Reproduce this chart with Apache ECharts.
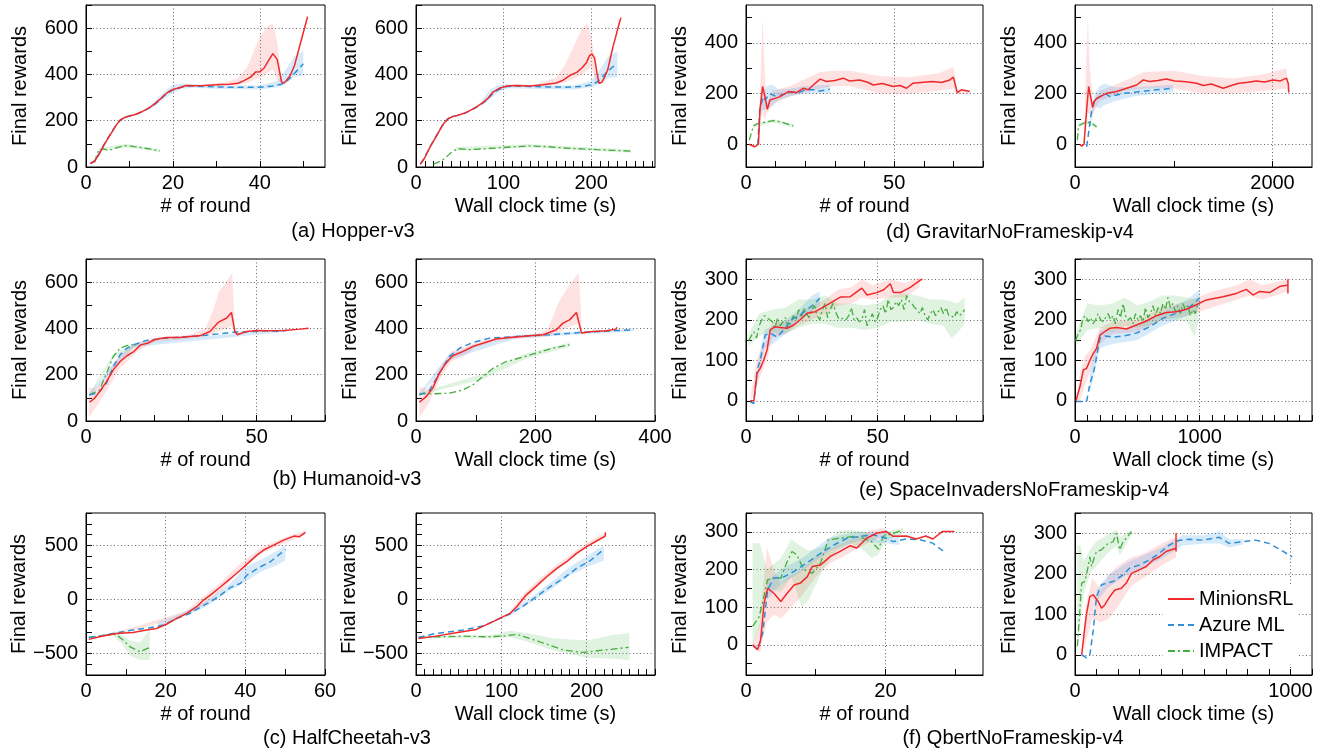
<!DOCTYPE html>
<html><head><meta charset="utf-8">
<script src="https://cdn.jsdelivr.net/npm/echarts@6/dist/echarts.min.js"></script>
<style>html,body{margin:0;padding:0;background:#fff}#c{width:1325px;height:754px}</style>
</head><body><div id="c"></div>
<script>
// ---------- DATA ----------
const methods = ['MinionsRL', 'Azure ML', 'IMPACT'];
const captions = ['(a) Hopper-v3', '(b) Humanoid-v3', '(c) HalfCheetah-v3',
  '(d) GravitarNoFrameskip-v4', '(e) SpaceInvadersNoFrameskip-v4', '(f) QbertNoFrameskip-v4'];
const xNameRound = '# of round';
const xNameWall = 'Wall clock time (s)';
const yName = 'Final rewards';

// (a) Hopper, rounds
const hopRoundRed = [[1,15],[2,25],[3,55],[4,90],[5,122],[6,152],[7,182],[8,205],[9,215],[10,221],[11,225],[12,232],[13,240],[14,250],[15,262],[16,276],[17,292],[18,310],[19,325],[20,335],[21,340],[22,346],[23,352],[25,351],[27,352],[29,354],[31,356],[33,358],[35,362],[36,370],[37,380],[38,390],[39,410],[40,412],[41,428],[42,460],[43,490],[44,465],[45,368],[45.5,362],[46,372],[47,395],[48,440],[49,510],[50,580],[51,650]];
const hopRoundRedBand = [[28,350,358],[32,352,365],[35,355,385],[37,362,430],[38,370,470],[39,380,520],[40,385,560],[41,395,590],[42,410,610],[43,420,620],[44,380,540],[45,355,380]];
const hopRoundBlue = [[1,15],[2,28],[3,58],[4,92],[5,124],[6,154],[7,183],[8,205],[9,214],[10,220],[11,224],[12,231],[13,239],[14,249],[15,260],[16,274],[17,290],[18,308],[19,322],[20,333],[21,338],[22,345],[23,350],[25,350],[27,348],[30,346],[33,345],[36,345],[39,344],[41,346],[43,350],[45,358],[46,368],[47,385],[48,405],[49,425],[50,446]];
const hopRoundBlueBand = [[15,250,270],[18,295,325],[20,320,355],[22,338,360],[25,342,358],[30,338,352],[40,335,352],[44,345,372],[46,360,420],[48,390,480],[50,395,500]];
const hopRoundGreen = [[2,20],[2.5,55],[3,75],[4,78],[5,72],[6,76],[7,83],[8,88],[9,92],[10,91],[11,88],[12,86],[13,83],[14,80],[15,77],[16,73],[17,70]];
const hopRoundGreenBand = [[3,68,82],[9,84,100],[13,76,90],[17,64,76]];

// (a) Hopper, wall clock
const hopWallRed = [[5,12],[10,40],[16,86],[22,125],[27,158],[32,190],[37,209],[42,218],[47,223],[55,232],[62,245],[70,262],[77,280],[83,300],[88,324],[95,340],[104,350],[115,352],[130,350],[145,355],[160,363],[168,375],[176,396],[184,410],[190,430],[195,453],[198,480],[201,489],[204,470],[207,400],[209,362],[212,365],[215,385],[219,420],[222,470],[225,520],[228,561],[231,605],[234,645]];
const hopWallRedBand = [[140,348,362],[160,355,385],[170,365,440],[180,380,520],[190,400,600],[196,420,620],[200,430,570],[205,380,440],[208,355,375]];
const hopWallBlue = [[5,12],[10,42],[16,88],[22,127],[27,160],[32,192],[37,210],[42,218],[47,222],[55,231],[62,244],[70,260],[77,278],[83,298],[88,320],[95,336],[104,348],[115,350],[130,348],[150,346],[170,345],[190,348],[200,355],[206,365],[212,385],[218,410],[224,430],[230,446]];
const hopWallBlueBand = [[75,265,290],[85,295,335],[95,325,355],[105,340,358],[130,338,355],[180,335,352],[200,345,372],[210,360,420],[220,385,480],[230,390,500]];
const hopWallGreen = [[20,12],[25,20],[31,32],[36,48],[41,65],[45,74],[48,79],[55,77],[62,75],[75,78],[92,82],[110,87],[130,91],[150,88],[169,82],[190,78],[207,75],[225,72],[245,69]];
const hopWallGreenBand = [[45,70,86],[130,84,98],[245,62,76]];

// (b) Humanoid, rounds
const humRoundRed = [[1,81],[2.5,98],[4,127],[6,170],[8,221],[10,257],[12,282],[14,300],[16,329],[18,336],[20,351],[23.5,361],[27.5,361],[30.4,365],[33.3,368],[36.3,387],[38.7,426],[41.2,445],[42.6,469],[43.6,387],[44.3,373],[47,387],[50,391],[53,390],[58,391],[62.7,397],[65.2,401]];
const humRoundRedBand = [[0.8,15,145],[3,60,140],[6,130,200],[8,180,245],[10,230,290],[12,255,305],[15,300,340],[20,340,360],[30,355,372],[35,365,400],[37,375,470],[39,390,560],[41,400,600],[42.8,410,640],[43.6,380,395],[45,370,380]];
const humRoundBlue = [[1,113],[2.5,118],[4,127],[6,163],[8,235],[10,286],[12,315],[14,329],[17.6,348],[23.5,358],[33.3,368],[43,383],[53,390],[56,388],[58.8,391]];
const humRoundBlueBand = [[1,105,120],[8,220,250],[14,320,338],[58,385,397]];
const humRoundGreen = [[1,113],[4,134],[6,206],[8,279],[10,315],[12.7,329],[14.7,329]];
const humRoundGreenBand = [[1,108,118],[8,270,290],[14.7,322,336]];

// (b) Humanoid, wall clock
const humWallRed = [[5.6,81],[17,105],[28,142],[39,206],[50,250],[61.5,282],[78,300],[95,322],[112,336],[134,354],[157,361],[190,368],[213,373],[235,394],[246,423],[257,437],[268.5,469],[277,380],[296,387],[319,390],[335,397],[336,405]];
const humWallRedBand = [[5.6,15,145],[20,70,140],[40,180,230],[60,260,300],[80,280,320],[100,320,340],[140,350,362],[200,360,375],[220,365,395],[240,380,520],[250,400,560],[260,410,600],[272,420,640],[278,375,388]];
const humWallBlue = [[5.6,113],[22,130],[39,206],[56,279],[73,315],[95,339],[123,358],[168,365],[224,373],[280,383],[336,391],[365,394]];
const humWallBlueBand = [[5.6,106,120],[56,265,292],[168,358,372],[365,388,400]];
const humWallGreen = [[5.6,117],[22,117],[56,120],[78,134],[95,156],[112,192],[129,228],[151,257],[179,276],[201,293],[229,315],[257,329]];
const humWallGreenBand = [[5.6,112,122],[112,180,204],[180,265,288],[257,322,338]];

// (c) HalfCheetah, rounds
const hcRoundRed = [[0.7,-370],[3.4,-346],[7.6,-315],[11.8,-306],[15.2,-284],[17.7,-269],[20.3,-228],[22.8,-176],[25.3,-130],[27.8,-68],[29.5,-6],[31.2,40],[33.8,117],[36.3,194],[38.8,272],[40.4,327],[42.9,410],[44.6,457],[47.1,503],[49.6,549],[52.2,586],[53.5,580],[55.1,620]];
const hcRoundRedBand = [[8,-330,-300],[25,-150,-110],[30,-40,40],[34,80,160],[38,240,310],[44,430,480],[50,520,575],[55,600,635]];
const hcRoundBlue = [[0.7,-352],[3.4,-340],[7.6,-309],[11.8,-284],[16,-262],[19.4,-238],[22.8,-176],[26.1,-130],[28.6,-74],[31.2,-22],[33.8,40],[36.3,111],[38.8,148],[40.4,225],[43.8,302],[46.3,349],[50.1,463]];
const hcRoundBlueBand = [[18,-255,-215],[22,-195,-160],[30,-70,-20],[36,80,140],[40,160,300],[44,260,370],[47,300,430],[50,360,500]];
const hcRoundGreen = [[0.7,-352],[5,-330],[7.6,-324],[9.3,-376],[11,-438],[13.5,-485],[16,-444]];
const hcRoundGreenBand = [[7,-340,-290],[9,-410,-330],[11,-520,-380],[13.5,-560,-400],[16,-560,-280]];

// (c) HalfCheetah, wall clock
const hcWallRed = [[3,-361],[23.5,-340],[47,-309],[70.6,-278],[86,-222],[98,-176],[110,-130],[118,-68],[129,40],[141,123],[153,210],[165,287],[176.5,349],[188,426],[200,488],[212,543],[221.6,586],[222,620]];
const hcWallRedBand = [[110,-150,-110],[125,-30,40],[140,100,160],[155,200,260],[170,300,350],[190,420,470],[210,530,570],[222,570,620]];
const hcWallBlue = [[3,-352],[23.5,-315],[55,-284],[78,-247],[94,-191],[110,-136],[125.5,-62],[141,25],[157,117],[172.5,194],[188,287],[204,358],[220,463]];
const hcWallBlueBand = [[110,-150,-120],[140,0,50],[160,100,170],[180,220,300],[200,300,400],[220,360,500]];
const hcWallGreen = [[3,-352],[27.5,-346],[55,-340],[82,-346],[102,-340],[118,-324],[133,-361],[153,-414],[172.5,-469],[196,-491],[220,-469],[249,-444]];
const hcWallGreenBand = [[3,-360,-345],[90,-360,-330],[110,-350,-290],[130,-390,-310],[160,-470,-360],[200,-540,-380],[230,-550,-330],[250,-560,-310]];

// (d) Gravitar, rounds
const grvRoundRed = [[1,0],[3,-10],[4.2,0],[4.7,135],[5.6,228],[6.4,188],[7.2,138],[8.1,175],[9.8,181],[11.5,188],[14.3,208],[17,204],[19.3,221],[21,215],[22.7,234],[25,257],[27.2,248],[30,252],[32.8,261],[35,250],[38.4,254],[41,245],[43,234],[46,240],[49.7,228],[52,232],[54.2,221],[56.4,241],[60,245],[63,248],[66,244],[68.8,254],[70,265],[71.3,204],[72.7,215],[75.5,208]];
const grvRoundRedBand = [[4.2,-10,10],[5,100,300],[5.6,120,500],[6.3,100,300],[7,120,160],[9,160,210],[15,190,230],[25,220,285],[30,230,290],[35,230,290],[45,200,270],[55,200,265],[65,210,280],[70,220,305],[71.5,195,215],[75.5,200,215]];
const grvRoundBlue = [[4,0],[4.7,148],[6,188],[6.5,175],[8,200],[10,190],[12,195],[15,205],[18,205],[20,215],[23,215],[25,210],[28.3,217]];
const grvRoundBlueBand = [[5,130,170],[7,140,230],[9,150,235],[11,175,215],[15,190,220],[20,200,230],[28.3,200,235]];
const grvRoundGreen = [[1.1,16],[2.5,72],[3.6,80],[6,86],[9.2,93],[11.5,89],[16,72]];
const grvRoundGreenBand = [[2.5,65,80],[9.2,86,100],[16,66,78]];

// (d) Gravitar, wall clock
const grvWallRed = [[50,0],[67,-8],[91,0],[118,135],[138,228],[158,188],[179,146],[192,168],[219,181],[320,201],[421,208],[523,221],[624,234],[691,254],[759,248],[840,252],[927,258],[1010,250],[1096,248],[1160,245],[1231,241],[1300,232],[1380,238],[1501,221],[1568,230],[1650,240],[1750,245],[1838,250],[1920,246],[2007,254],[2080,250],[2142,261],[2160,240],[2165,204]];
const grvWallRedBand = [[91,-10,10],[110,80,300],[130,120,500],[150,120,300],[180,120,170],[250,170,210],[500,210,250],[700,220,285],[1000,220,290],[1300,200,270],[1600,200,260],[1900,210,275],[2140,220,300],[2165,195,215]];
const grvWallBlue = [[118,-10],[150,80],[169,135],[202,175],[253,188],[304,201],[354,188],[489,201],[658,208],[826,215],[995,221]];
const grvWallBlueBand = [[150,60,100],[200,150,200],[250,140,230],[300,155,240],[400,170,225],[600,190,225],[995,205,235]];
const grvWallGreen = [[24,16],[34,73],[84,82],[118,89],[185,79],[219,69]];
const grvWallGreenBand = [[34,66,80],[118,82,96],[219,62,76]];

// (e) SpaceInvaders, rounds
const siRoundRed = [[1.6,0],[3,0],[4.2,68],[5.4,80],[6.7,100],[8,125],[9.2,175],[11.1,183],[13,181],[15.6,179],[18.1,187],[20.6,200],[23.2,216],[26.3,220],[29.5,232],[32,241],[35.8,256],[39.6,257],[44,278],[46,261],[49.7,267],[52.3,274],[54.8,289],[56,267],[58.6,267],[62.4,280],[66.2,298],[67,300]];
const siRoundRedBand = [[1.6,-5,5],[4,40,100],[6,70,130],[8,100,150],[10,155,195],[15,165,195],[20,185,215],[25,200,235],[30,215,250],[35,235,275],[40,240,280],[44,255,300],[48,250,285],[55,255,300],[60,255,290],[66,280,305]];
const siRoundBlue = [[1.6,-2],[2.9,-7],[4.2,76],[5.4,100],[7.3,162],[9.2,167],[11.8,157],[14.3,175],[17.5,201],[20.6,212],[23.8,228],[26.3,241],[28,253]];
const siRoundBlueBand = [[3,-10,0],[5,70,110],[7,130,175],[10,140,185],[14,160,195],[20,195,225],[25,220,260],[28,235,270]];
const siRoundGreen = [[1,148],[2,160],[3,170],[4,155],[5,185],[6,200],[7,210],[8,205],[9,200],[10,195],[11,180],[12,205],[13,185],[14,195],[15,205],[16,180],[17,195],[18,210],[19,200],[20,225],[21,205],[22,230],[23,215],[24,205],[25,225],[26,235],[27,210],[28,200],[29,225],[30,240],[31,205],[32,225],[33,240],[34,220],[35,205],[36,200],[37,205],[38,200],[39,210],[40,230],[41,200],[42,205],[43,195],[44,200],[45,225],[46,185],[47,200],[48,215],[49,195],[50,205],[51,225],[52,235],[53,215],[54,250],[55,225],[56,230],[57,245],[58,235],[59,250],[60,225],[61,260],[62,245],[63,240],[64,230],[65,225],[66,215],[67,230],[68,210],[69,200],[70,215],[71,225],[72,210],[73,220],[74,230],[75,215],[76,230],[77,210],[78,210],[79,205],[80,220],[81,210],[82,215],[83,225]];
const siRoundGreenBand = [[1,135,165],[5,160,215],[10,170,225],[15,165,230],[20,180,250],[25,190,250],[30,190,260],[35,180,240],[40,180,240],[45,175,235],[50,180,240],[55,195,260],[60,195,265],[65,200,260],[70,190,250],[75,185,250],[78,155,245],[80,165,240],[83,190,255]];

// (e) SpaceInvaders, wall clock
const siWallRed = [[8,0],[40,35],[67,76],[93,80],[120,100],[147,117],[173,129],[200,162],[240,171],[280,179],[333,181],[413,177],[493,187],[573,197],[653,210],[733,218],[813,220],[893,226],[973,237],[1053,249],[1187,257],[1293,265],[1373,275],[1427,261],[1480,270],[1560,267],[1640,282],[1707,286],[1707,300],[1707,265]];
const siWallRedBand = [[8,-5,5],[40,0,70],[80,40,110],[120,70,125],[200,140,180],[300,165,195],[500,170,200],[700,200,230],[900,210,245],[1100,230,270],[1300,250,285],[1400,260,300],[1500,250,285],[1707,270,300]];
const siWallBlue = [[13,-2],[93,-2],[120,43],[147,68],[173,109],[200,154],[240,160],[307,157],[387,160],[493,167],[600,183],[707,204],[813,216],[920,232],[1000,253]];
const siWallBlueBand = [[120,20,70],[200,130,175],[300,140,175],[500,150,185],[700,185,220],[900,210,250],[1000,230,275]];
const siWallGreen = [[5,148],[25,165],[45,175],[65,205],[85,210],[105,195],[125,205],[145,190],[165,200],[185,215],[205,200],[225,195],[245,205],[265,215],[285,200],[305,210],[325,190],[345,225],[365,205],[385,240],[405,210],[425,200],[445,205],[465,190],[485,215],[505,200],[525,210],[545,195],[565,230],[585,205],[605,215],[625,235],[645,210],[665,230],[685,215],[705,240],[725,225],[745,255],[765,230],[785,240],[805,220],[825,235],[845,215],[865,240],[885,225],[905,235],[925,210],[945,225],[965,215],[985,240]];
const siWallGreenBand = [[5,135,165],[100,175,240],[200,180,235],[300,170,240],[400,185,255],[500,180,235],[600,185,245],[700,200,260],[800,200,260],[900,195,255],[960,155,250],[990,200,260]];

// (f) Qbert, rounds
const qbRoundRed = [[0.95,0],[1.66,-13],[2.1,13],[2.6,111],[3.1,150],[4,137],[5,115],[5.9,137],[6.9,159],[7.8,164],[8.8,181],[9.5,208],[10.7,212],[12.1,235],[13.5,248],[14.9,263],[15.9,257],[17.3,283],[18.7,296],[20.1,301],[21.1,288],[23,289],[24.4,281],[25.8,289],[26.8,281],[28.2,301],[29.9,301]];
const qbRoundRedBand = [[1,-5,5],[2,-20,60],[3,60,260],[4,80,200],[5,70,160],[6,90,180],[8,130,200],[10,180,235],[12,215,255],[15,245,280],[18,275,305],[20,290,310]];
const qbRoundBlue = [[0.95,0],[1.66,-13],[2.4,31],[3.1,146],[4,177],[5.5,181],[6.9,195],[8.3,212],[9.7,230],[11.1,248],[12.6,265],[14.5,283],[16.4,288],[18.2,292],[20.1,283],[21.1,274],[23,281],[24.9,279],[26.8,270],[28.7,243]];
const qbRoundBlueBand = [[3,120,170],[5,160,200],[8,195,230],[12,250,285],[16,275,300],[20,270,300],[22,265,290]];
const qbRoundGreen = [[0.95,49],[1.9,75],[3.1,173],[4,177],[5,177],[5.7,212],[6.6,248],[7.3,239],[8.3,199],[9.5,190],[10.7,217],[11.8,279],[13.5,283],[15.4,288],[16.8,283],[18,274],[19,254],[19.7,288],[21.1,296],[22.5,305]];
const qbRoundGreenBand = [[0.95,0,270],[2,50,270],[3,150,200],[5,140,230],[6.5,180,280],[8,100,260],[9,120,250],[11,200,260],[13,250,300],[15,270,305],[17,250,300],[18,230,290],[19,240,275],[20,275,300],[22.5,295,310]];

// (f) Qbert, wall clock
const qbWallRed = [[31,0],[46,70],[54,103],[69,144],[85,148],[108,131],[123,115],[138,123],[162,144],[185,160],[215,164],[238,177],[262,201],[300,210],[331,218],[362,234],[392,242],[423,255],[469,263],[469,300],[469,255]];
const qbWallRedBand = [[31,-5,5],[50,30,120],[80,90,190],[120,80,160],[160,90,200],[200,120,220],[260,170,240],[320,190,250],[400,220,275],[469,240,290]];
const qbWallBlue = [[31,0],[54,-8],[69,0],[85,62],[100,144],[123,173],[146,177],[177,181],[223,197],[254,214],[300,222],[346,234],[392,251],[438,271],[485,283],[531,285],[592,283],[669,290],[715,275],[777,279],[838,283],[900,275],[954,259],[1008,242]];
const qbWallBlueBand = [[100,130,160],[150,165,195],[250,200,230],[400,235,265],[500,270,295],[600,275,295],[670,275,305],[715,265,285],[780,272,285]];
const qbWallGreen = [[11,21],[20,90],[31,177],[46,181],[58,210],[69,242],[77,218],[88,238],[100,255],[123,259],[138,267],[154,275],[177,279],[192,300],[208,259],[223,279],[238,288],[262,304]];
const qbWallGreenBand = [[11,0,270],[25,80,270],[40,150,230],[70,200,260],[100,220,280],[150,250,295],[192,270,310],[208,245,290],[262,295,310]];

// tick label values per axis
const yLabelsMujoco = [0,200,400,600];
const yLabelsCheetah = [-500,0,500];
const yLabelsGravitar = [0,200,400];
const yLabelsAtari = [0,100,200,300];

// ---------- LAYOUT / STYLE ----------
const FONT = '"Liberation Sans", Arial, Helvetica, sans-serif';
const C = {red:'#f0292b', blue:'#2f8fd6', green:'#45ad3f'};
const B = {red:'rgba(248,110,110,0.2)', blue:'rgba(70,160,230,0.22)', green:'rgba(100,190,100,0.2)'};
function range(a,b,s){const r=[];for(let v=a;v<=b+1e-9;v+=s)r.push(Math.round(v*1000)/1000);return r;}
const fmt = v => String(v).replace('-', '\u2212');

const colL = [86, 416, 746, 1075];
const colW = [239, 239, 237, 237];
const rowT = [5, 259, 513];
const H = 162;

const panels = [
 {r:0,c:0,xName:xNameRound,x:[0,55],xl:[0,20,40],xt:range(0,50,10),xg:[20,40],y:[0,700],yl:yLabelsMujoco,yt:range(0,700,100),yg:[200,400,600],
  s:[hopRoundRed,hopRoundRedBand,hopRoundBlue,hopRoundBlueBand,hopRoundGreen,hopRoundGreenBand]},
 {r:0,c:1,xName:xNameWall,x:[0,273],xl:[0,100,200],xt:range(0,270,10),xg:[100,200],y:[0,700],yl:yLabelsMujoco,yt:range(0,700,100),yg:[200,400,600],
  s:[hopWallRed,hopWallRedBand,hopWallBlue,hopWallBlueBand,hopWallGreen,hopWallGreenBand]},
 {r:1,c:0,xName:xNameRound,x:[0,70],xl:[0,50],xt:range(0,70,10),xg:[50],y:[0,700],yl:yLabelsMujoco,yt:range(0,700,100),yg:[200,400,600],
  s:[humRoundRed,humRoundRedBand,humRoundBlue,humRoundBlueBand,humRoundGreen,humRoundGreenBand]},
 {r:1,c:1,xName:xNameWall,x:[0,400],xl:[0,200,400],xt:range(0,400,100),xg:[200],y:[0,700],yl:yLabelsMujoco,yt:range(0,700,100),yg:[200,400,600],
  s:[humWallRed,humWallRedBand,humWallBlue,humWallBlueBand,humWallGreen,humWallGreenBand]},
 {r:2,c:0,xName:xNameRound,x:[0,60],xl:[0,20,40,60],xt:range(0,60,10),xg:[20,40],y:[-700,800],yl:yLabelsCheetah,yt:range(-700,800,100),yg:[-500,0,500],
  s:[hcRoundRed,hcRoundRedBand,hcRoundBlue,hcRoundBlueBand,hcRoundGreen,hcRoundGreenBand]},
 {r:2,c:1,xName:xNameWall,x:[0,280],xl:[0,100,200],xt:range(0,280,10),xg:[100,200],y:[-700,800],yl:yLabelsCheetah,yt:range(-700,800,100),yg:[-500,0,500],
  s:[hcWallRed,hcWallRedBand,hcWallBlue,hcWallBlueBand,hcWallGreen,hcWallGreenBand]},
 {r:0,c:2,xName:xNameRound,x:[0,80],xl:[0,50],xt:range(0,80,10),xg:[50],y:[-90,550],yl:yLabelsGravitar,yt:range(0,500,100),yg:[0,200,400],
  s:[grvRoundRed,grvRoundRedBand,grvRoundBlue,grvRoundBlueBand,grvRoundGreen,grvRoundGreenBand]},
 {r:0,c:3,xName:xNameWall,x:[0,2400],xl:[0,2000],xt:range(0,2000,1000),xg:[2000],y:[-90,550],yl:yLabelsGravitar,yt:range(0,500,100),yg:[0,200,400],
  s:[grvWallRed,grvWallRedBand,grvWallBlue,grvWallBlueBand,grvWallGreen,grvWallGreenBand]},
 {r:1,c:2,xName:xNameRound,x:[0,90],xl:[0,50],xt:range(0,90,10),xg:[50],y:[-50,350],yl:yLabelsAtari,yt:range(-50,350,50),yg:[0,100,200,300],
  s:[siRoundRed,siRoundRedBand,siRoundBlue,siRoundBlueBand,siRoundGreen,siRoundGreenBand]},
 {r:1,c:3,xName:xNameWall,x:[0,1900],xl:[0,1000],xt:range(0,1900,100),xg:[1000],y:[-50,350],yl:yLabelsAtari,yt:range(-50,350,50),yg:[0,100,200,300],
  s:[siWallRed,siWallRedBand,siWallBlue,siWallBlueBand,siWallGreen,siWallGreenBand]},
 {r:2,c:2,xName:xNameRound,x:[0,34],xl:[0,20],xt:range(0,30,10),xg:[20],y:[-80,350],yl:yLabelsAtari,yt:range(-50,350,50),yg:[0,100,200,300],
  s:[qbRoundRed,qbRoundRedBand,qbRoundBlue,qbRoundBlueBand,qbRoundGreen,qbRoundGreenBand]},
 {r:2,c:3,xName:xNameWall,x:[0,1100],xl:[0,1000],xt:range(0,1100,100),xg:[1000],y:[-50,350],yl:yLabelsAtari,yt:range(-50,350,50),yg:[0,100,200,300],
  s:[qbWallRed,qbWallRedBand,qbWallBlue,qbWallBlueBand,qbWallGreen,qbWallGreenBand]}
];

const txt = {fontSize:20, fontFamily:FONT, color:'#000'};
const grids=[], xAxes=[], yAxes=[], series=[];
panels.forEach((p,i)=>{
  grids.push({left:colL[p.c], top:rowT[p.r], width:colW[p.c], height:H, show:true, borderColor:'#000', borderWidth:1, backgroundColor:'transparent', outerBoundsMode:'none'});
  xAxes.push({type:'value', gridIndex:i, min:p.x[0], max:p.x[1], position:'bottom',
    axisLine:{show:true,onZero:false,lineStyle:{color:'#000',width:1}},
    axisTick:{show:true,inside:true,length:6,customValues:p.xt,lineStyle:{color:'#000'}},
    axisLabel:Object.assign({show:true,customValues:p.xl,formatter:fmt,margin:6},txt),
    splitLine:{show:false},
    name:p.xName, nameLocation:'middle', nameGap:29, nameTextStyle:txt});
  xAxes.push({type:'value', gridIndex:i, min:p.x[0], max:p.x[1], position:'bottom',
    axisLine:{show:false,onZero:false}, axisTick:{show:false,customValues:p.xg},
    axisLabel:{show:false,customValues:p.xg},
    splitLine:{show:true,lineStyle:{color:'#666',width:1,type:[1,2.5]}}});
  yAxes.push({type:'value', gridIndex:i, min:p.y[0], max:p.y[1], position:'left',
    axisLine:{show:true,onZero:false,lineStyle:{color:'#000',width:1}},
    axisTick:{show:true,inside:true,length:6,customValues:p.yt,lineStyle:{color:'#000'}},
    axisLabel:Object.assign({show:true,customValues:p.yl,formatter:fmt,margin:8},txt),
    splitLine:{show:false},
    name:yName, nameLocation:'middle', nameGap:56, nameTextStyle:txt});
  yAxes.push({type:'value', gridIndex:i, min:p.y[0], max:p.y[1], position:'left',
    axisLine:{show:false,onZero:false}, axisTick:{show:false,customValues:p.yg},
    axisLabel:{show:false,customValues:p.yg},
    splitLine:{show:true,lineStyle:{color:'#666',width:1,type:[1,2.5]}}});
  const xi = 2*i, yi = 2*i;
  const bandKeys = [['red',p.s[1]],['blue',p.s[3]],['green',p.s[5]]];
  bandKeys.forEach(([k,arr])=>{
    series.push({type:'custom', name:'band', xAxisIndex:xi, yAxisIndex:yi, silent:true, clip:true, z:1,
      data:[[arr[0][0],arr[0][1]]],
      renderItem:(params,api)=>{
        const up = arr.map(d=>api.coord([d[0],d[2]]));
        const lo = arr.slice().reverse().map(d=>api.coord([d[0],d[1]]));
        return {type:'polygon', shape:{points:up.concat(lo)}, style:{fill:B[k]}};
      }});
  });
  const lines = [
    [methods[2], p.s[4], C.green, [7,3,2,3], 1.3],
    [methods[1], p.s[2], C.blue, [6,4], 1.5],
    [methods[0], p.s[0], C.red, 'solid', 1.5]
  ];
  lines.forEach(([nm,arr,col,tp,w])=>{
    series.push({type:'line', name:nm, xAxisIndex:xi, yAxisIndex:yi, data:arr, symbol:'none', showSymbol:false,
      smooth:false, clip:true, z:3, lineStyle:{color:col, width:w, type:tp}, itemStyle:{color:col}});
  });
});

const capPos = [[353,231],[347,479],[347,738],[1010,232],[1014,490],[1013,738]];
const graphic = captions.map((t,i)=>({type:'text', x:capPos[i][0], y:capPos[i][1],
  style:{text:t, font:'20px '+FONT, fill:'#000', align:'center', verticalAlign:'middle'}}));

const chart = echarts.init(document.getElementById('c'), null, {renderer:'canvas'});
chart.setOption({
  animation:false,
  backgroundColor:'#fff',
  grid:grids, xAxis:xAxes, yAxis:yAxes, series:series, graphic:graphic,
  legend:{data:methods, orient:'vertical', left:1163, top:586, itemWidth:26, itemHeight:12, itemGap:6,
    itemStyle:{opacity:0}, textStyle:txt, backgroundColor:'#fff', padding:[3,4,3,4], selectedMode:false}
});
</script></body></html>
